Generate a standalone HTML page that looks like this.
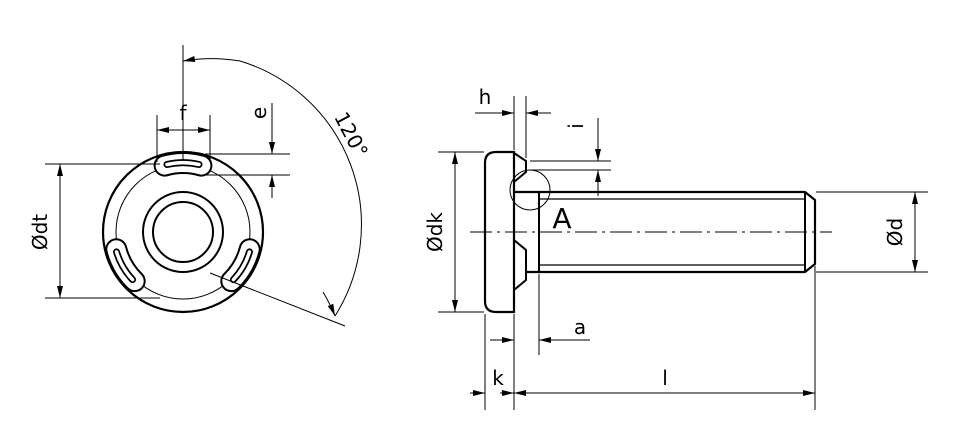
<!DOCTYPE html>
<html><head><style>body{margin:0;background:#fff}svg{display:block}text{font-family:"DejaVu Sans","Liberation Sans",sans-serif;fill:#000}</style></head><body>
<svg width="953" height="439" viewBox="0 0 953 439" xmlns="http://www.w3.org/2000/svg">
<defs>
<marker id="a" viewBox="0 0 12 6" refX="12" refY="3" markerWidth="12" markerHeight="6" orient="auto" markerUnits="userSpaceOnUse"><path d="M0,0L12,3L0,6z" fill="#000"/></marker>
</defs>
<g fill="none" stroke="#000">
<!-- LEFT VIEW -->
<circle cx="183" cy="232" r="80" stroke-width="2.2"/>
<circle cx="183" cy="232" r="67" stroke-width="1"/>
<circle cx="183" cy="232" r="40" stroke-width="2"/>
<circle cx="183" cy="232" r="30" stroke-width="2"/>
<g id="slot">
<path d="M164.6,165.6 A69,69 0 0 1 201.4,165.6" stroke="#000" stroke-width="22" stroke-linecap="round"/>
<path d="M164.6,165.6 A69,69 0 0 1 201.4,165.6" stroke="#fff" stroke-width="18" stroke-linecap="round"/>
<path d="M167,164.5 A69,69 0 0 1 199,164.5" stroke="#000" stroke-width="7" stroke-linecap="round"/>
<path d="M167,164.5 A69,69 0 0 1 199,164.5" stroke="#fff" stroke-width="3.5" stroke-linecap="round"/>
</g>
<use href="#slot" transform="rotate(120 183 232)"/>
<use href="#slot" transform="rotate(240 183 232)"/>
<g stroke-width="1">
<line x1="183" y1="45" x2="183" y2="160"/>
<line x1="157" y1="115" x2="157" y2="162"/>
<line x1="210" y1="115" x2="210" y2="162"/>
<line x1="183" y1="130" x2="157" y2="130" marker-end="url(#a)"/>
<line x1="183" y1="130" x2="210" y2="130" marker-end="url(#a)"/>
<line x1="205" y1="154" x2="290" y2="154"/>
<line x1="205" y1="175" x2="290" y2="175"/>
<line x1="272" y1="103" x2="272" y2="154" marker-end="url(#a)"/>
<line x1="272" y1="198" x2="272" y2="175" marker-end="url(#a)"/>
<line x1="45" y1="164" x2="160" y2="164"/>
<line x1="45" y1="298" x2="160" y2="298"/>
<line x1="60" y1="232" x2="60" y2="164" marker-end="url(#a)"/>
<line x1="60" y1="232" x2="60" y2="298" marker-end="url(#a)"/>
<path d="M210,273 L345,326"/>
<path d="M240,61 A171,171 0 0 1 335,316"/>
<path d="M240,61 A171,171 0 0 0 183,61" marker-end="url(#a)"/>
<path d="M323,292 A171,171 0 0 1 335,316" marker-end="url(#a)"/>
</g>
<!-- RIGHT VIEW -->
<path d="M514,152 L496,152 Q485,152 485,163 L485,301 Q485,312 496,312 L514,312 Z" stroke-width="2.2"/>
<path d="M514,153 L526,161 L526,172 L514,182" stroke-width="2"/>
<path d="M514,240 L526,250 L526,280 L514,290" stroke-width="2"/>
<path d="M514,192 L805,192 L815,200 L815,264 L805,272 L527,272" stroke-width="2.2"/>
<line x1="539" y1="192" x2="539" y2="272" stroke-width="2"/>
<line x1="539" y1="199" x2="805" y2="199" stroke-width="1.2"/>
<line x1="539" y1="265" x2="805" y2="265" stroke-width="1.2"/>
<line x1="805" y1="192" x2="805" y2="272" stroke-width="2"/>
<line x1="470" y1="232" x2="832" y2="232" stroke-width="1" stroke-dasharray="22,5,3,5"/>
<circle cx="530" cy="190" r="20" stroke-width="1"/>
<g stroke-width="1">
<line x1="514" y1="96" x2="514" y2="150"/>
<line x1="526" y1="96" x2="526" y2="158"/>
<line x1="475" y1="113" x2="514" y2="113" marker-end="url(#a)"/>
<line x1="551" y1="113" x2="526" y2="113" marker-end="url(#a)"/>
<line x1="530" y1="161" x2="611" y2="161"/>
<line x1="530" y1="170" x2="611" y2="170"/>
<line x1="598" y1="118" x2="598" y2="161" marker-end="url(#a)"/>
<line x1="598" y1="196" x2="598" y2="170" marker-end="url(#a)"/>
<line x1="438" y1="152" x2="484" y2="152"/>
<line x1="438" y1="312" x2="484" y2="312"/>
<line x1="455" y1="232" x2="455" y2="152" marker-end="url(#a)"/>
<line x1="455" y1="232" x2="455" y2="312" marker-end="url(#a)"/>
<line x1="816" y1="192" x2="928" y2="192"/>
<line x1="816" y1="272" x2="928" y2="272"/>
<line x1="915" y1="232" x2="915" y2="192" marker-end="url(#a)"/>
<line x1="915" y1="232" x2="915" y2="272" marker-end="url(#a)"/>
<line x1="485" y1="314" x2="485" y2="410"/>
<line x1="514" y1="314" x2="514" y2="410"/>
<line x1="539" y1="274" x2="539" y2="355"/>
<line x1="815" y1="266" x2="815" y2="410"/>
<line x1="490" y1="340" x2="514" y2="340" marker-end="url(#a)"/>
<line x1="590" y1="340" x2="539" y2="340" marker-end="url(#a)"/>
<line x1="470" y1="393" x2="485" y2="393" marker-end="url(#a)"/>
<line x1="500" y1="393" x2="514" y2="393"/>
<line x1="514" y1="393" x2="815" y2="393"/>
<line x1="500" y1="393" x2="514" y2="393" marker-end="url(#a)"/>
<line x1="650" y1="393" x2="514" y2="393" marker-end="url(#a)"/>
<line x1="650" y1="393" x2="815" y2="393" marker-end="url(#a)"/>
</g>
</g>
<g font-size="20">
<text x="183" y="120" text-anchor="middle">f</text>
<text transform="translate(266,113) rotate(-90)" text-anchor="middle">e</text>
<text transform="translate(47,232) rotate(-90)" text-anchor="middle">Ødt</text>
<text transform="translate(345,138) rotate(62)" text-anchor="middle">120°</text>
<text x="485" y="104" text-anchor="middle">h</text>
<text transform="translate(583,126) rotate(-90)" text-anchor="middle">i</text>
<text transform="translate(442,232) rotate(-90)" text-anchor="middle">Ødk</text>
<text transform="translate(902,232) rotate(-90)" text-anchor="middle">Ød</text>
<text x="580" y="334" text-anchor="middle">a</text>
<text x="498" y="385" text-anchor="middle">k</text>
<text x="665" y="385" text-anchor="middle">l</text>
<text x="562" y="228" text-anchor="middle" font-size="28">A</text>
</g>
</svg>
</body></html>
